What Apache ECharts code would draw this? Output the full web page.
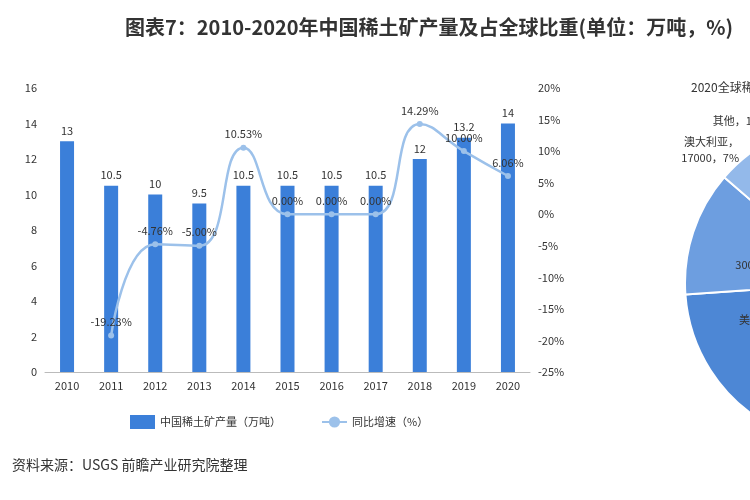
<!DOCTYPE html>
<html><head><meta charset="utf-8">
<script src="https://cdn.jsdelivr.net/npm/echarts@6/dist/echarts.min.js"></script>
<style>body{margin:0;background:#fff}#c{width:750px;height:500px}</style>
</head><body><div id="c"></div>
<script>
const years=['2010','2011','2012','2013','2014','2015','2016','2017','2018','2019','2020'];
const output=[13,10.5,10,9.5,10.5,10.5,10.5,10.5,12,13.2,14];
const growth=[null,-19.23,-4.76,-5.00,10.53,0.00,0.00,0.00,14.29,10.00,6.06];
const pieNames=['中国','美国','缅甸','澳大利亚','其他'];
const pieValues=[140000,38000,30000,17000,16000];
const piePct=['58%','16%','12%','7%','7%'];
const font='"Noto Sans CJK SC", sans-serif';
const chart=echarts.init(document.getElementById('c'));
const pieLabel=[
  {position:'inside'},
  {position:'inside',formatter:'美国，38000，\n16%'},
  {position:'inside',formatter:'缅甸，\n30000，12%'},
  {position:'outside',formatter:'澳大利亚，\n17000，7%'},
  {position:'outside',formatter:'其他，16000，7%'}
];
chart.setOption({
  animation:false,
  textStyle:{fontFamily:font},
  title:[{text:'图表7：2010-2020年中国稀土矿产量及占全球比重(单位：万吨，%)',left:120,top:12,textStyle:{fontSize:20,fontWeight:'bold',color:'#333',fontFamily:font}},
         {text:'2020全球稀土矿产量分布',left:686,top:76,textStyle:{fontSize:12,fontWeight:'normal',color:'#333',fontFamily:font}}],
  grid:{left:45,right:220,top:88,bottom:128},
  legend:{bottom:66,left:125,itemGap:40,textStyle:{fontSize:11,color:'#333'},
    data:[{name:'中国稀土矿产量（万吨）',icon:'rect'},{name:'同比增速（%）'}]},
  xAxis:{type:'category',data:years,axisTick:{show:false},axisLine:{lineStyle:{color:'#bbb'}},axisLabel:{color:'#333',fontSize:11}},
  yAxis:[{type:'value',min:0,max:16,interval:2,splitLine:{show:false},axisLabel:{color:'#333',fontSize:11}},
         {type:'value',min:-25,max:20,interval:5,splitLine:{show:false},axisLabel:{color:'#333',fontSize:11,formatter:'{value}%'}}],
  series:[
    {name:'中国稀土矿产量（万吨）',type:'bar',data:output,barWidth:14,itemStyle:{color:'#3b7fd9'},
     label:{show:true,position:'top',color:'#333',fontSize:11}},
    {name:'同比增速（%）',type:'line',yAxisIndex:1,smooth:true,data:growth,symbol:'circle',symbolSize:6,
     lineStyle:{color:'#9cc1ea',width:2.5},itemStyle:{color:'#9cc1ea'},
     label:{show:true,position:'top',color:'#333',fontSize:11,formatter:p=>p.value.toFixed(2)+'%'}},
    {type:'pie',center:[847,283],radius:[0,162],startAngle:90,
     data:pieNames.map((n,i)=>({name:n,value:pieValues[i],label:pieLabel[i]})),
     itemStyle:{borderColor:'#fff',borderWidth:2},
     color:['#2e6fc6','#4d87d5','#6d9ee0','#93b9ea','#b8d2f3'],
     label:{color:'#333',fontSize:11,lineHeight:16,
       formatter:p=>p.name+'，\n'+pieValues[p.dataIndex]+'，'+piePct[p.dataIndex]},
     labelLine:{show:false,length:4,length2:4}}
  ],
  graphic:[{type:'text',left:12,top:458,style:{text:'资料来源：USGS 前瞻产业研究院整理',fontSize:14,fill:'#333',fontFamily:font}}]
});
</script></body></html>
